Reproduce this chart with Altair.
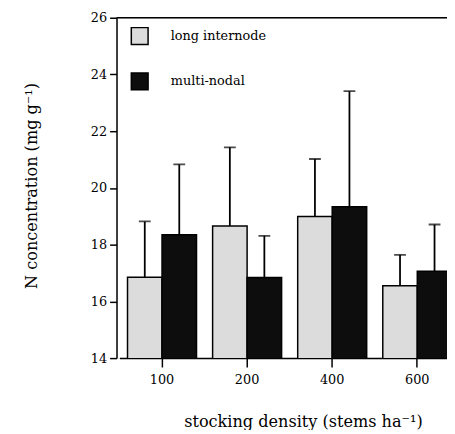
import altair as alt
import pandas as pd

densities = ["100", "200", "400", "600"]
types = ["long internode", "multi-nodal"]
long_mean = [16.85, 18.66, 18.99, 16.55]
long_upper = [18.82, 21.43, 21.02, 17.64]
multi_mean = [18.35, 16.84, 19.34, 17.06]
multi_upper = [20.83, 18.31, 23.41, 18.71]

rows = []
for i, d in enumerate(densities):
    rows.append({"density": d, "type": types[0], "mean": long_mean[i], "upper": long_upper[i]})
    rows.append({"density": d, "type": types[1], "mean": multi_mean[i], "upper": multi_upper[i]})
df = pd.DataFrame(rows)

FONT = "DejaVu Serif"

x = alt.X("density:N", sort=densities,
          scale=alt.Scale(range=[3, 348], paddingInner=0.189, paddingOuter=0.0945),
          axis=alt.Axis(title="stocking density (stems ha⁻¹)", labelAngle=0,
                        labelFontSize=13, labelColor="black",
                        labelPadding=7, tickSize=9, tickColor="black", tickWidth=1.5,
                        domainColor="black", domainWidth=1.5,
                        titleFontSize=16.3, titleFontWeight="normal",
                        titleColor="black", titleX=189, titleY=64,
                        titleBaseline="middle", titleAlign="center", grid=False))
xo = alt.XOffset("type:N", sort=types, scale=alt.Scale(paddingInner=0, paddingOuter=0))
y = alt.Y("mean:Q",
          scale=alt.Scale(domain=[14, 26], nice=False, zero=False),
          axis=alt.Axis(title="N concentration (mg g⁻¹)", values=[14, 16, 18, 20, 22, 24, 26],
                        labelFontSize=13, labelColor="black",
                        labelPadding=3, tickSize=7, tickColor="black", tickWidth=1.5,
                        domainColor="black", domainWidth=1.5,
                        titleFontSize=16.3, titleFontWeight="normal",
                        titleColor="black", titleX=-86, titleY=170,
                        titleAlign="center", titleBaseline="middle", grid=False))

color = alt.Color("type:N", sort=types,
                  scale=alt.Scale(domain=types, range=["#dcdcdc", "#0d0d0d"]),
                  legend=alt.Legend(title=None, orient="none", legendX=14, legendY=9,
                                    symbolType="square", symbolSize=289,
                                    symbolStrokeColor="black", symbolStrokeWidth=1.5,
                                    symbolOpacity=1,
                                    labelFontSize=13, labelColor="black",
                                    labelOffset=22, rowPadding=23, padding=0))

base = alt.Chart(df)

bars = base.mark_bar(stroke="black", strokeWidth=1.5, clip=True).encode(
    x=x, xOffset=xo, y=y, color=color)

err = base.mark_rule(color="black", strokeWidth=1.8, clip=True).encode(
    x=alt.X("density:N", sort=densities), xOffset=xo,
    y=alt.Y("mean:Q"), y2="upper:Q")

caps = base.mark_tick(color="black", thickness=1.8, size=12, orient="horizontal", clip=True).encode(
    x=alt.X("density:N", sort=densities), xOffset=xo,
    y=alt.Y("upper:Q"))

top = alt.Chart(pd.DataFrame({"v": [26]})).mark_rule(color="black", strokeWidth=1.5).encode(
    y=alt.Y("v:Q"))

chart = alt.layer(bars, err, caps, top).properties(
    width=335, height=345,
    autosize=alt.AutoSizeParams(type="none"),
    padding={"left": 110, "top": 7, "right": 0, "bottom": 70},
).configure_view(stroke=None).configure(background="white", font=FONT)

chart.save("out.html", embed_options={"renderer": "svg", "actions": False})
